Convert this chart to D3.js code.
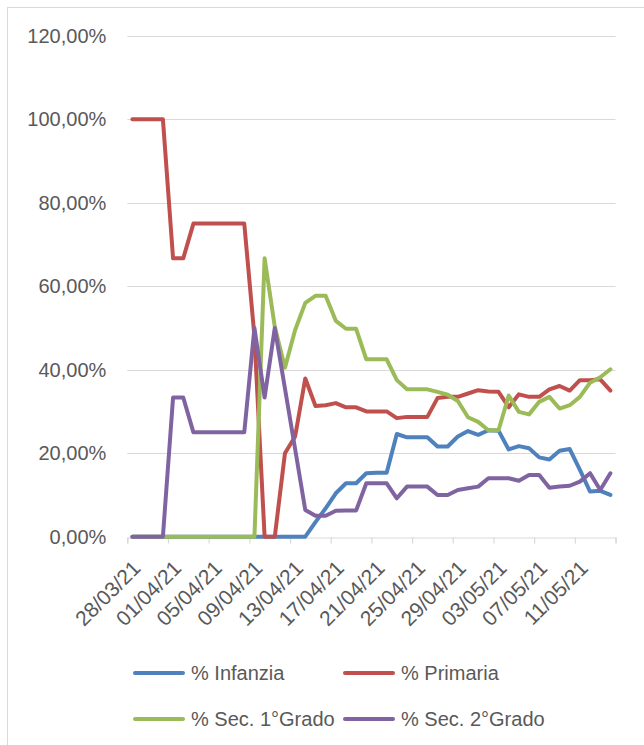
<!DOCTYPE html>
<html><head><meta charset="utf-8">
<script src="https://cdn.jsdelivr.net/npm/d3@7"></script>
<style>
html,body{margin:0;padding:0;background:#fff;}
svg{display:block;font-family:"Liberation Sans",Arial,sans-serif;}
</style></head>
<body>
<script>
// ---------- data ----------
const dates = ["28/03/21","29/03/21","30/03/21","31/03/21","01/04/21","02/04/21","03/04/21","04/04/21",
"05/04/21","06/04/21","07/04/21","08/04/21","09/04/21","10/04/21","11/04/21","12/04/21",
"13/04/21","14/04/21","15/04/21","16/04/21","17/04/21","18/04/21","19/04/21","20/04/21",
"21/04/21","22/04/21","23/04/21","24/04/21","25/04/21","26/04/21","27/04/21","28/04/21",
"29/04/21","30/04/21","01/05/21","02/05/21","03/05/21","04/05/21","05/05/21","06/05/21",
"07/05/21","08/05/21","09/05/21","10/05/21","11/05/21","12/05/21","13/05/21","14/05/21"];

const infanzia = [0,0,0,0,0,0,0,0, 0,0,0,0,0,0,0,0,
  0,0,3.5,6.8,10.4,12.8,12.8,15.2, 15.3,15.3,24.6,23.8,23.8,23.8,21.6,21.6,
  24,25.3,24.4,25.5,25.4,20.9,21.7,21.2, 19,18.5,20.6,21,16,10.8,11,10];
const primaria = [100,100,100,100,66.67,66.67,75,75, 75,75,75,75,48,0,0,20,
  24,37.9,31.3,31.5,32,31,31,30, 30,30,28.4,28.7,28.7,28.7,33.2,33.5,
  33.5,34.3,35.1,34.8,34.7,31,34.1,33.5, 33.5,35.3,36.1,35,37.5,37.5,37.7,35];
const sec1 = [0,0,0,0,0,0,0,0, 0,0,0,0,0,66.67,50.3,40.5,
  49.5,56,57.7,57.7,51.7,49.8,49.8,42.5, 42.5,42.5,37.5,35.3,35.3,35.3,34.7,34,
  32.5,28.6,27.5,25.5,25.5,33.8,29.9,29.3, 32.3,33.5,30.7,31.5,33.5,36.9,38.2,40.1];
const sec2 = [0,0,0,0,33.33,33.33,25,25, 25,25,25,25,50,33.33,50,35.5,
  21,6.4,5,5,6.2,6.3,6.3,12.8, 12.8,12.8,9.2,12,12,12,10,10,
  11.2,11.6,12,14,14,14,13.4,14.8, 14.8,11.7,12,12.2,13.2,15.2,11.2,15.2];

const tickLabels = ["28/03/21","01/04/21","05/04/21","09/04/21","13/04/21","17/04/21",
  "21/04/21","25/04/21","29/04/21","03/05/21","07/05/21","11/05/21"];
const axisEnd = "15/05/21";
const yTicks = [0,20,40,60,80,100,120];

const seriesNames = ["% Infanzia","% Primaria","% Sec. 1°Grado","% Sec. 2°Grado"];
const seriesColors = ["#4F81BD","#C0504D","#9BBB59","#8064A2"];
const seriesValues = [infanzia, primaria, sec1, sec2];

// ---------- chart ----------
const W = 644, H = 745;
const parse = d3.utcParse("%d/%m/%y");
const svg = d3.select("body").append("svg").attr("width", W).attr("height", H);

svg.append("rect").attr("x",7.5).attr("y",7.5).attr("width",W+20).attr("height",H+20)
  .attr("fill","#fff").attr("stroke","#D9D9D9").attr("stroke-width",1);

const x = d3.scaleUtc().domain([parse(dates[0]), parse(axisEnd)]).range([127.3, 615.5]);
const y = d3.scaleLinear().domain([0,120]).range([536.7, 35.7]);

// gridlines
svg.append("g").selectAll("line").data(yTicks.filter(d=>d>0)).join("line")
  .attr("x1", x.range()[0]).attr("x2", x.range()[1])
  .attr("y1", d=>Math.round(y(d))+0.5).attr("y2", d=>Math.round(y(d))+0.5)
  .attr("stroke","#D9D9D9").attr("stroke-width",1.2);

// y axis labels
const yAxis = svg.append("g").attr("transform",`translate(${x.range()[0]},0)`)
  .call(d3.axisLeft(y).tickValues(yTicks).tickSize(0).tickPadding(21)
    .tickFormat(d => d.toFixed(2).replace(".",",") + "%"));
yAxis.select(".domain").remove();
yAxis.selectAll("text").attr("fill","#595959").style("font-size","20px")
  .style("font-family",'"Liberation Sans",Arial,sans-serif');

// x axis
const tickDates = tickLabels.map(parse).concat([parse(axisEnd)]);
const xAxis = svg.append("g").attr("transform",`translate(0,${Math.round(y(0))+0.5})`)
  .call(d3.axisBottom(x).tickValues(tickDates).tickSize(6)
    .tickFormat((d,i) => i < tickLabels.length ? tickLabels[i] : ""));
xAxis.select(".domain").attr("stroke","#D9D9D9").attr("stroke-width",1.2);
xAxis.selectAll(".tick line").attr("stroke","#D9D9D9").attr("stroke-width",1.2);
xAxis.selectAll("text").attr("fill","#595959").style("font-size","21px")
  .style("font-family",'"Liberation Sans",Arial,sans-serif')
  .attr("text-anchor","end").attr("x",0).attr("y",0).attr("dy",0)
  .attr("transform","translate(14,32) rotate(-45)");

// lines
const half = 12*3600*1000;
const line = d3.line().x(d => x(new Date(parse(d[0]).getTime()+half))).y(d => y(d[1]));
seriesValues.forEach((vals,k) => {
  svg.append("path").datum(dates.map((d,i)=>[d, vals[i]]))
    .attr("d", line).attr("fill","none").attr("stroke", seriesColors[k])
    .attr("stroke-width",4).attr("stroke-linejoin","round").attr("stroke-linecap","round");
});

// legend
const legPos = [[135,673],[345,673],[135,719],[345,719]];
seriesNames.forEach((n,k) => {
  const [lx,ly] = legPos[k];
  svg.append("line").attr("x1",lx).attr("x2",lx+48).attr("y1",ly).attr("y2",ly)
    .attr("stroke",seriesColors[k]).attr("stroke-width",4).attr("stroke-linecap","round");
  svg.append("text").attr("x",lx+56).attr("y",ly).attr("dy","0.35em")
    .attr("fill","#595959").style("font-size","20px").text(n);
});
</script>
</body></html>
